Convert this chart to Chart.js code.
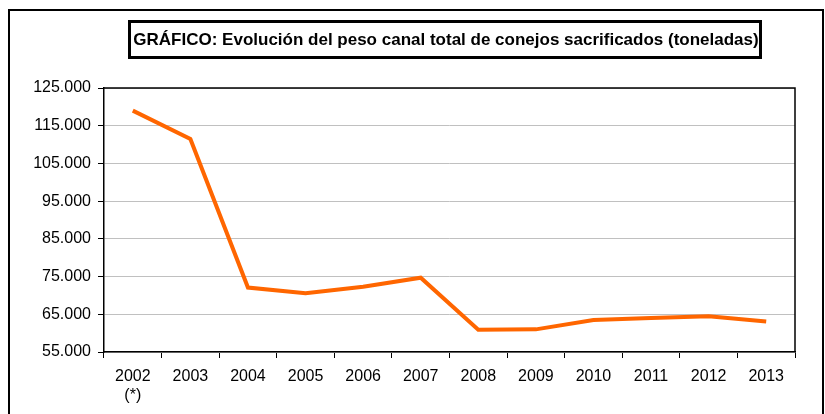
<!DOCTYPE html>
<html>
<head>
<meta charset="utf-8">
<script src="https://cdn.jsdelivr.net/npm/chart.js@4/dist/chart.umd.min.js"></script>
<style>
  body { margin: 0; background: #fff; }
  #wrap { width: 825px; height: 414px; position: relative; }
</style>
</head>
<body>
<div id="wrap"><canvas id="myChart" width="825" height="414"></canvas></div>
<script>
var years = [['2002', '(*)'], '2003', '2004', '2005', '2006', '2007', '2008', '2009', '2010', '2011', '2012', '2013'];
var pesoCanal = [119000, 111500, 72100, 70600, 72300, 74700, 60900, 61000, 63500, 64000, 64500, 63100];
var titleText = 'GRÁFICO: Evolución del peso canal total de conejos sacrificados (toneladas)';

function formatMiles (v) {
    return String(v).replace(/\B(?=(\d{3})+(?!\d))/g, '.');
}

// outer frame, title box and the top/right edge of the plot
var framePlugin = {
    id: 'frame',
    afterDraw: function (chart) {
        var ctx = chart.ctx;
        var area = chart.chartArea;
        ctx.save();
        ctx.strokeStyle = '#000';
        ctx.lineWidth = 2;
        ctx.beginPath();
        ctx.moveTo(9, 414);
        ctx.lineTo(9, 10);
        ctx.lineTo(823, 10);
        ctx.lineTo(823, 414);
        ctx.stroke();

        ctx.lineWidth = 3;
        ctx.strokeRect(129.5, 21.5, 631, 36);
        ctx.font = 'bold 17px Arial, "Liberation Sans"';
        ctx.fillStyle = '#000';
        ctx.textAlign = 'center';
        ctx.textBaseline = 'middle';
        ctx.fillText(titleText, 446, 40);

        ctx.lineWidth = 1.5;
        ctx.beginPath();
        ctx.moveTo(area.left, area.top);
        ctx.lineTo(area.right, area.top);
        ctx.lineTo(area.right, area.bottom);
        ctx.stroke();
        ctx.restore();
    }
};

var config = {
    type: 'line',
    data: {
        labels: years,
        datasets: [{
            data: pesoCanal,
            borderColor: '#FF6600',
            borderWidth: 4,
            pointRadius: 0,
            tension: 0,
            fill: false
        }]
    },
    options: {
        responsive: false,
        animation: false,
        layout: { padding: { left: 9, right: 30, top: 88, bottom: 0 } },
        plugins: { legend: { display: false }, title: { display: false }, tooltip: { enabled: false } },
        scales: {
            x: {
                offset: true,
                grid: { offset: true, drawOnChartArea: false, drawTicks: true, tickLength: 6, tickColor: '#000', lineWidth: 1 },
                border: { color: '#000', width: 1.5 },
                ticks: { color: '#000', font: { family: 'Arial, "Liberation Sans"', size: 16 }, padding: 9, maxRotation: 0, autoSkip: false },
                afterFit: function (s) { s.height = 62; }
            },
            y: {
                min: 55000,
                max: 125000,
                grid: { color: '#c0c0c0', lineWidth: 1, tickColor: '#000', tickLength: 6 },
                border: { color: '#000', width: 1.5 },
                ticks: {
                    stepSize: 10000,
                    color: '#000',
                    padding: 7,
                    font: { family: 'Arial, "Liberation Sans"', size: 16 },
                    callback: function (v) { return formatMiles(v); }
                },
                afterFit: function (s) { s.width = 95; }
            }
        }
    },
    plugins: [framePlugin]
};

var ctx1 = document.getElementById('myChart').getContext('2d');
window.myChart = new Chart(ctx1, config);
</script>
</body>
</html>
